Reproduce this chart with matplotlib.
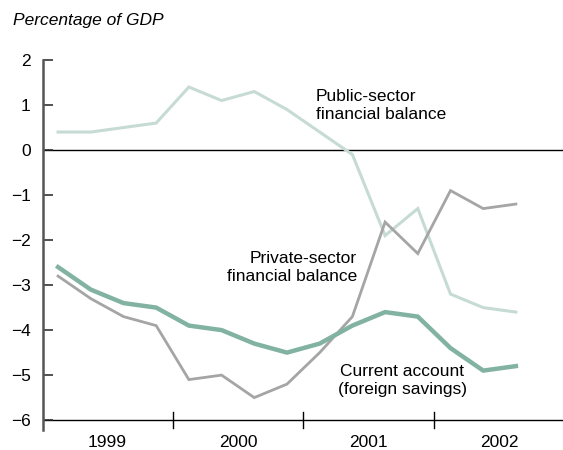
import numpy as np
import matplotlib.pyplot as plt

plt.rcParams['font.family'] = ['Liberation Sans', 'DejaVu Sans']

# quarterly data, 1999Q1 - 2002Q3
quarters = np.arange(15)
public = [0.4, 0.4, 0.5, 0.6, 1.4, 1.1, 1.3, 0.9, 0.4, -0.1, -1.9, -1.3, -3.2, -3.5, -3.6]
private = [-2.8, -3.3, -3.7, -3.9, -5.1, -5.0, -5.5, -5.2, -4.5, -3.7, -1.6, -2.3, -0.9, -1.3, -1.2]
current = [-2.6, -3.1, -3.4, -3.5, -3.9, -4.0, -4.3, -4.5, -4.3, -3.9, -3.6, -3.7, -4.4, -4.9, -4.8]
years = ['1999', '2000', '2001', '2002']
yticks = [2, 1, 0, -1, -2, -3, -4, -5, -6]

fig = plt.figure(figsize=(5.63, 4.5), dpi=100)
ax = fig.add_axes([0.0764, 0.0444, 0.9236, 0.8222])

ax.plot(quarters, public, color='#c6dbd3', lw=2.2, solid_joinstyle='miter')
ax.plot(quarters, private, color='#a5a5a5', lw=2.0, solid_joinstyle='miter')
ax.plot(quarters, current, color='#82b3a2', lw=3.2, solid_joinstyle='miter')

ax.axhline(0, color='black', lw=1.0, zorder=0)
ax.axhline(-6, color='black', lw=1.0, zorder=0)

ax.set_xlim(-0.46, 15.44)
ax.set_ylim(-6.22, 2.0)

for sp in ['top', 'right', 'bottom']:
    ax.spines[sp].set_visible(False)
ax.spines['left'].set_color('#555555')
ax.spines['left'].set_linewidth(1.8)

ax.set_xticks([])
ax.set_yticks(yticks)
ax.set_yticklabels([str(v).replace('-', '\u2212') for v in yticks], fontsize=12.5)
ax.tick_params(axis='y', direction='in', length=7, width=1.1, color='#222222', pad=9)

# year separators and labels
for b in [3.5, 7.5, 11.5]:
    ax.plot([b, b], [-6.18, -5.82], color='black', lw=1.0, clip_on=False)
for i, yr in enumerate(years):
    ax.text(1.5 + 4 * i, -6.5, yr, ha='center', va='center', fontsize=12.5, clip_on=False)

ax.text(7.89, 0.98, 'Public-sector\nfinancial balance', ha='left', va='center',
        fontsize=12.5, linespacing=1.25)
ax.text(9.14, -2.61, 'Private-sector\nfinancial balance', ha='right', va='center',
        fontsize=12.5, linespacing=1.25)
ax.text(10.52, -5.11, 'Current account\n(foreign savings)', ha='center', va='center',
        fontsize=12.5, linespacing=1.25)

fig.text(13 / 563, 1 - 20 / 450, 'Percentage of GDP', ha='left', va='center',
         fontsize=12.5, style='italic')

fig.savefig('out.png', dpi=100)
